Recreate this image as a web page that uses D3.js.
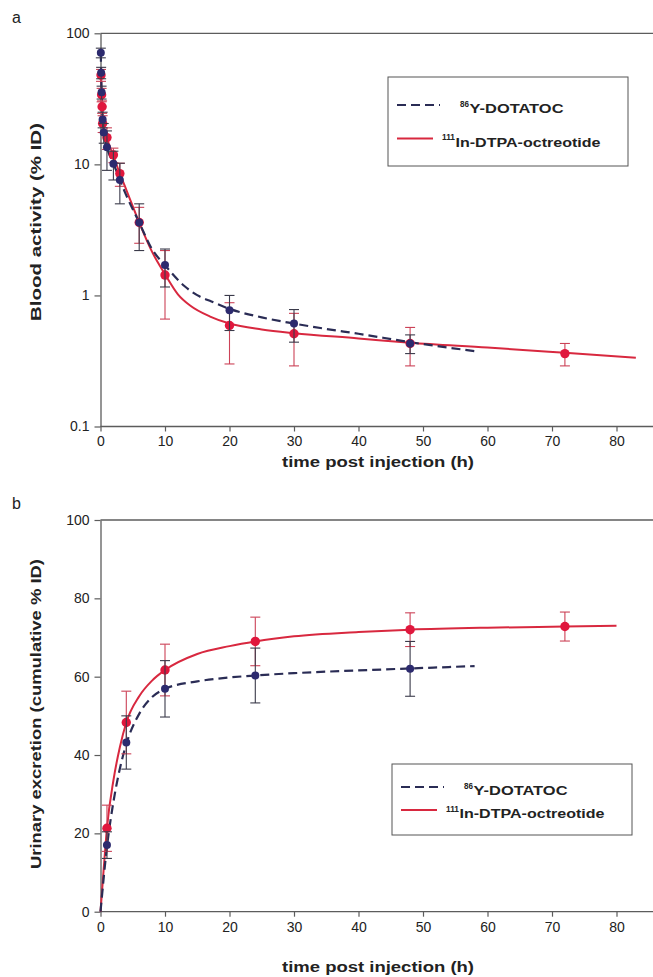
<!DOCTYPE html>
<html>
<head>
<meta charset="utf-8">
<script src="https://cdn.jsdelivr.net/npm/d3@7"></script>
<style>
  body { margin: 0; background: #fff; }
  svg { display: block; }
  text { font-family: "Liberation Sans", Arial, sans-serif; fill: #222; }
</style>
</head>
<body>
<svg id="chart" width="653" height="977"></svg>
<script>
// ---------- Panel a: blood activity (% ID), log scale ----------
const bloodYTicks = [0.1, 1, 10, 100];
const timeTicks = [0, 10, 20, 30, 40, 50, 60, 70, 80];

// 86Y-DOTATOC measured points
const yBloodT   = [0.05, 0.1, 0.17, 0.33, 0.5, 1, 2, 3, 6, 10, 20, 30, 48];
const yBloodV   = [71, 50, 35.5, 22, 17.5, 13.5, 10.1, 7.6, 3.6, 1.71, 0.77, 0.61, 0.43];
const yBloodErr = [6, 5, 4, 3, 3, 4.5, 2.5, 2.6, 1.4, 0.55, 0.23, 0.17, 0.07];
// 86Y-DOTATOC fitted curve
const yBloodFitT = [0.05, 0.1, 0.2, 0.5, 1, 2, 3, 4, 6, 8, 10, 13, 15.4, 17.2, 20, 25, 30, 35, 40, 48, 58];
const yBloodFitV = [71, 50, 33, 18, 13.5, 10.2, 7.6, 5.8, 3.6, 2.25, 1.7, 1.18, 0.98, 0.9, 0.79, 0.68, 0.61, 0.555, 0.51, 0.44, 0.376];

// 111In-DTPA-octreotide measured points
const inBloodT   = [0.08, 0.17, 0.25, 0.33, 1, 2, 3, 6, 10, 20, 30, 48, 72];
const inBloodV   = [48, 34, 27.5, 20.5, 16, 11.8, 8.5, 3.6, 1.43, 0.59, 0.51, 0.43, 0.36];
const inBloodErr = [5, 4, 3, 3, 3, 1.5, 1.7, 1.1, 0.77, 0.29, 0.22, 0.14, 0.07];
// 111In-DTPA-octreotide fitted curve
const inBloodFitT = [0.05, 0.2, 0.5, 1, 2, 3, 4, 6, 8, 10, 12, 14, 17, 20, 25, 30, 40, 48, 60, 72, 83];
const inBloodFitV = [52, 30, 19, 15.8, 11.6, 8.5, 6.4, 3.6, 2.15, 1.45, 1.02, 0.83, 0.69, 0.61, 0.55, 0.515, 0.47, 0.435, 0.4, 0.365, 0.335];

// ---------- Panel b: urinary excretion (cumulative % ID) ----------
const urineYTicks = [0, 20, 40, 60, 80, 100];

const yUrineT   = [1, 4, 10, 24, 48];
const yUrineV   = [17, 43.2, 56.9, 60.3, 62];
const yUrineErr = [3.4, 6.8, 7.2, 7, 7];
const yUrineFitT = [0, 1, 2, 3, 4, 6, 8, 10, 15, 20, 24, 30, 40, 48, 58];
const yUrineFitV = [0, 16.5, 28, 36.5, 42.8, 50.5, 54.8, 56.9, 58.8, 59.8, 60.3, 60.9, 61.6, 62.1, 62.7];

const inUrineT   = [1, 4, 10, 24, 48, 72];
const inUrineV   = [21.3, 48.3, 61.7, 69, 72, 72.8];
const inUrineErr = [5.9, 8, 6.6, 6.2, 4.3, 3.7];
const inUrineFitT = [0, 0.5, 1, 2, 3, 4, 6, 8, 10, 15, 20, 24, 30, 40, 48, 60, 72, 80];
const inUrineFitV = [0, 11, 21.3, 33.5, 42, 48.3, 55, 59, 61.7, 65.8, 67.8, 69, 70.3, 71.4, 72, 72.5, 72.8, 73];

const seriesNames = ["Y-DOTATOC", "In-DTPA-octreotide"];
const seriesIsotopes = ["86", "111"];

// ---------- styling ----------
const W = 653;
const AXIS = "#5c5c5c";
const BLUE = "#2c2a6e";
const BLUE_LINE = "#2a2c55";
const BLUE_ERR = "#3a3a4a";
const RED = "#e0173d";
const RED_LINE = "#d8283f";
const RED_ERR = "#cc4257";

const svg = d3.select("#chart");

function zip(t, v, e) {
  return t.map((d, i) => ({ t: d, v: v[i], e: e ? e[i] : 0 }));
}

function drawPanel(p) {
  const g = svg.append("g");
  const x = p.x, y = p.y;
  const [yBot, yTop] = y.range();
  const x0 = x.range()[0];

  // top frame line
  g.append("line").attr("x1", x0).attr("x2", W).attr("y1", yTop).attr("y2", yTop)
    .attr("stroke", AXIS).attr("stroke-width", 1.3);

  // y axis
  const ya = g.append("g").attr("transform", `translate(${x0},0)`)
    .call(d3.axisLeft(y).tickValues(p.yTicks).tickSize(6).tickSizeOuter(0).tickPadding(5)
      .tickFormat(d3.format("~g")));
  ya.select(".domain").attr("stroke", AXIS).attr("stroke-width", 1.3);
  ya.selectAll(".tick line").attr("stroke", AXIS).attr("stroke-width", 1.2);
  ya.selectAll(".tick text").attr("font-size", 14).attr("fill", "#2a2a2a")
    .attr("font-family", "Liberation Sans, Arial, sans-serif");

  // x axis (line runs to the right edge)
  const xa = g.append("g").attr("transform", `translate(0,${yBot})`)
    .call(d3.axisBottom(x).tickValues(timeTicks).tickSize(5).tickSizeOuter(0).tickPadding(5));
  xa.select(".domain").remove();
  xa.append("line").attr("x1", x0).attr("x2", W).attr("y1", 0).attr("y2", 0)
    .attr("stroke", AXIS).attr("stroke-width", 1.3);
  xa.selectAll(".tick line").attr("stroke", AXIS).attr("stroke-width", 1.2);
  xa.selectAll(".tick text").attr("font-size", 14).attr("fill", "#2a2a2a")
    .attr("font-family", "Liberation Sans, Arial, sans-serif");

  // titles
  g.append("text").attr("x", p.titleX).attr("y", p.xTitleY).attr("text-anchor", "middle")
    .attr("font-size", 14).attr("font-weight", "bold")
    .attr("textLength", 192).attr("lengthAdjust", "spacingAndGlyphs")
    .text("time post injection (h)");
  g.append("text").attr("transform", `translate(${41},${p.yTitleC}) rotate(-90)`)
    .attr("text-anchor", "middle").attr("font-size", 14).attr("font-weight", "bold")
    .attr("textLength", p.yTitleLen).attr("lengthAdjust", "spacingAndGlyphs")
    .text(p.yTitle);
  g.append("text").attr("x", 12).attr("y", p.letterY).attr("font-size", 16).text(p.letter);

  // fitted curves
  const line = d3.line().x(d => x(d.t)).y(d => y(d.v)).curve(d3.curveMonotoneX);
  g.append("path").datum(zip(p.redFitT, p.redFitV)).attr("d", line)
    .attr("fill", "none").attr("stroke", RED_LINE).attr("stroke-width", 2);
  g.append("path").datum(zip(p.blueFitT, p.blueFitV)).attr("d", line)
    .attr("fill", "none").attr("stroke", BLUE_LINE).attr("stroke-width", 2.2)
    .attr("stroke-dasharray", "9,5");

  // error bars + markers
  function points(data, errColor, fill, r) {
    const pg = g.append("g");
    const eb = pg.selectAll(".eb").data(data).join("g");
    eb.append("line").attr("x1", d => x(d.t)).attr("x2", d => x(d.t))
      .attr("y1", d => y(d.v - d.e)).attr("y2", d => y(d.v + d.e))
      .attr("stroke", errColor).attr("stroke-width", 1.1);
    [-1, 1].forEach(s => {
      eb.append("line").attr("x1", d => x(d.t) - 5).attr("x2", d => x(d.t) + 5)
        .attr("y1", d => y(d.v + s * d.e)).attr("y2", d => y(d.v + s * d.e))
        .attr("stroke", errColor).attr("stroke-width", 1.1);
    });
    pg.selectAll("circle").data(data).join("circle")
      .attr("cx", d => x(d.t)).attr("cy", d => y(d.v)).attr("r", r)
      .attr("fill", fill);
  }
  points(zip(p.redT, p.redV, p.redE), RED_ERR, RED, 4.7);
  points(zip(p.blueT, p.blueV, p.blueE), BLUE_ERR, BLUE, 4);

  // legend
  const L = p.legend;
  const lg = g.append("g");
  lg.append("rect").attr("x", L.x).attr("y", L.y).attr("width", L.w).attr("height", L.h)
    .attr("fill", "#fff").attr("stroke", "#555").attr("stroke-width", 1);
  lg.append("line").attr("x1", L.x + 9).attr("x2", L.x + 52).attr("y1", L.row1).attr("y2", L.row1)
    .attr("stroke", BLUE_LINE).attr("stroke-width", 2).attr("stroke-dasharray", "9,5");
  lg.append("line").attr("x1", L.x + 9).attr("x2", L.x + 45).attr("y1", L.row2).attr("y2", L.row2)
    .attr("stroke", RED_LINE).attr("stroke-width", 2);
  const entries = [
    { row: L.row1, supX: L.x + 72, supW: 9, mainW: 94, i: 0 },
    { row: L.row2, supX: L.x + 54, supW: 13, mainW: 145, i: 1 }
  ];
  entries.forEach(en => {
    lg.append("text").attr("x", en.supX).attr("y", en.row + 1.5)
      .attr("font-size", 8.5).attr("font-weight", "bold")
      .attr("textLength", en.supW).attr("lengthAdjust", "spacingAndGlyphs")
      .text(seriesIsotopes[en.i]);
    lg.append("text").attr("x", en.supX + en.supW + 0.5).attr("y", en.row + 8)
      .attr("font-size", 13.5).attr("font-weight", "bold")
      .attr("textLength", en.mainW).attr("lengthAdjust", "spacingAndGlyphs")
      .text(seriesNames[en.i]);
  });
}

drawPanel({
  x: d3.scaleLinear().domain([0, 80]).range([100.5, 616.5]),
  y: d3.scaleLog().domain([0.1, 100]).range([426.5, 33.3]),
  yTicks: bloodYTicks,
  blueT: yBloodT, blueV: yBloodV, blueE: yBloodErr,
  blueFitT: yBloodFitT, blueFitV: yBloodFitV,
  redT: inBloodT, redV: inBloodV, redE: inBloodErr,
  redFitT: inBloodFitT, redFitV: inBloodFitV,
  titleX: 378, xTitleY: 467,
  yTitle: "Blood activity (% ID)", yTitleC: 222, yTitleLen: 198,
  letter: "a", letterY: 23,
  legend: { x: 388, y: 77, w: 240, h: 89, row1: 105, row2: 138.5 }
});

drawPanel({
  x: d3.scaleLinear().domain([0, 80]).range([100.5, 616.5]),
  y: d3.scaleLinear().domain([0, 100]).range([911.7, 520]),
  yTicks: urineYTicks,
  blueT: yUrineT, blueV: yUrineV, blueE: yUrineErr,
  blueFitT: yUrineFitT, blueFitV: yUrineFitV,
  redT: inUrineT, redV: inUrineV, redE: inUrineErr,
  redFitT: inUrineFitT, redFitV: inUrineFitV,
  titleX: 378, xTitleY: 972,
  yTitle: "Urinary excretion (cumulative % ID)", yTitleC: 714, yTitleLen: 310,
  letter: "b", letterY: 509,
  legend: { x: 392, y: 764, w: 240, h: 71, row1: 787, row2: 810 }
});
</script>
</body>
</html>
